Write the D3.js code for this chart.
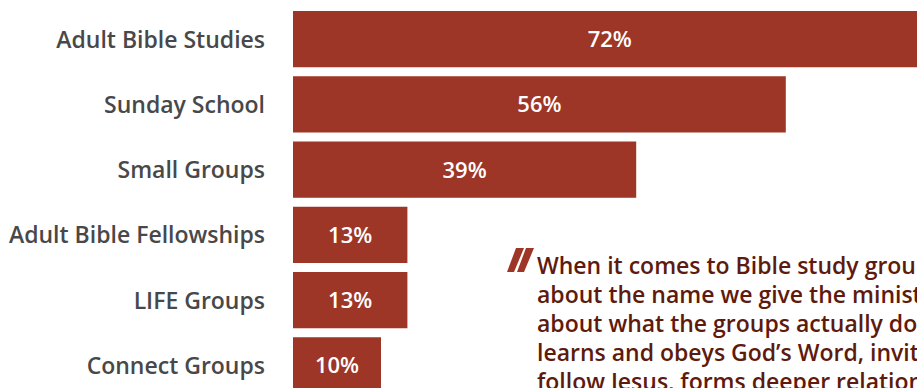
<!DOCTYPE html>
<html>
<head>
<meta charset="utf-8">
<script src="https://cdn.jsdelivr.net/npm/d3@7/dist/d3.min.js"></script>
<style>
  html, body { margin: 0; padding: 0; background: #fff; overflow: hidden; }
  svg { display: block; font-family: "Open Sans", Lato, sans-serif; }
</style>
</head>
<body>
<svg id="chart" width="917" height="388"></svg>
<script>
// Names used for adult Bible study groups, share of churches
const categories = [
  "Adult Bible Studies",
  "Sunday School",
  "Small Groups",
  "Adult Bible Fellowships",
  "LIFE Groups",
  "Connect Groups"
];
const values = [72, 56, 39, 13, 13, 10];

const quoteLines = [
  "When it comes to Bible study groups, it\u2019s not",
  "about the name we give the ministry. It\u2019s",
  "about what the groups actually do: a group that",
  "learns and obeys God\u2019s Word, invites others to",
  "follow Jesus, forms deeper relationships"
];

const barColor = "#9e3627";
const labelColor = "#48484a";
const quoteColor = "#5e1a0c";

const svg = d3.select("#chart");

const x = d3.scaleLinear().domain([0, 100]).range([293, 1173]);
const y = d3.scaleBand()
  .domain(categories)
  .range([11, 393.5])
  .paddingInner(9 / 65.3)
  .paddingOuter(0);

const rows = categories.map((c, i) => ({ cat: c, val: values[i] }));

// Bars
svg.append("g").selectAll("rect")
  .data(rows)
  .join("rect")
  .attr("x", x(0))
  .attr("y", d => y(d.cat))
  .attr("width", d => x(d.val) - x(0))
  .attr("height", y.bandwidth())
  .attr("fill", barColor);

// Category labels
svg.append("g").selectAll("text")
  .data(rows)
  .join("text")
  .attr("x", 265)
  .attr("y", d => y(d.cat) + y.bandwidth() / 2 + 8.5)
  .attr("text-anchor", "end")
  .attr("font-size", 23)
  .attr("font-weight", 600)
  .attr("fill", labelColor)
  .text(d => d.cat);

// Value labels centred in each bar
svg.append("g").selectAll("text")
  .data(rows)
  .join("text")
  .attr("x", d => (x(0) + x(d.val)) / 2)
  .attr("y", d => y(d.cat) + y.bandwidth() / 2 + 8)
  .attr("text-anchor", "middle")
  .attr("font-size", 22)
  .attr("font-weight", 600)
  .attr("fill", "#fff")
  .text(d => d.val + "%");

// Pull quote
const q = svg.append("g");
// opening quote mark: two slanted wedges
const wedge = (x0) => `M${x0 + 9},248 L${x0 + 17},248 L${x0 + 7},272 L${x0},272 Z`;
q.append("path").attr("d", wedge(507)).attr("fill", barColor);
q.append("path").attr("d", wedge(517)).attr("fill", barColor);

q.selectAll("text.line")
  .data(quoteLines)
  .join("text")
  .attr("class", "line")
  .attr("x", 537)
  .attr("y", (d, i) => 274 + i * 29)
  .attr("font-size", 23)
  .attr("font-weight", 600)
  .attr("fill", quoteColor)
  .text(d => d);
</script>
</body>
</html>
